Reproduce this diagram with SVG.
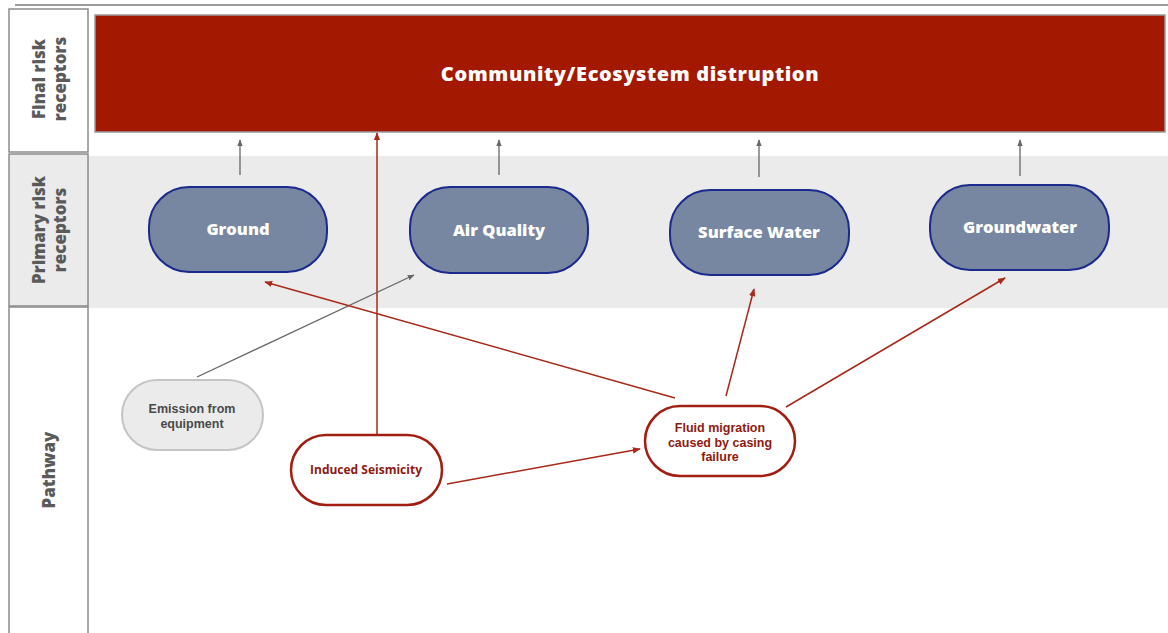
<svg xmlns="http://www.w3.org/2000/svg" width="1168" height="633" viewBox="0 0 1168 633">
<style>
.lane{fill:#ffffff;stroke:#8c8c8c;stroke-width:1.5}
.lane.g{fill:#ebebeb}
.lanet{font-family:"Open Sans","Liberation Sans",sans-serif;font-weight:800;font-size:17px;fill:#5a5a5a;text-anchor:middle}
.prim{fill:#7786a1;stroke:#1b2a8c;stroke-width:2}
.primt{font-family:"Open Sans","Liberation Sans",sans-serif;font-weight:800;font-size:16.5px;fill:#ffffff;text-anchor:middle}
.path{fill:#ffffff;stroke:#a01f12;stroke-width:2.5}
.patht{font-family:"Open Sans","Liberation Sans",sans-serif;font-weight:bold;font-size:12px;fill:#8e1a10;text-anchor:middle}
.mt{font-family:"Liberation Sans",Arial,sans-serif;font-weight:bold;font-size:12.5px;text-anchor:middle}
.gl{stroke:#666666;stroke-width:1.3;fill:none}
.rl{stroke:#a8281a;stroke-width:1.5;fill:none}
</style>
<defs>
<marker id="ag" viewBox="0 0 10 10" refX="9" refY="5" markerWidth="7" markerHeight="7" markerUnits="userSpaceOnUse" orient="auto"><path d="M0,1 L10,5 L0,9 z" fill="#666666"/></marker>
<marker id="ar" viewBox="0 0 10 10" refX="9" refY="5" markerWidth="8" markerHeight="8" markerUnits="userSpaceOnUse" orient="auto"><path d="M0,1 L10,5 L0,9 z" fill="#a8281a"/></marker>
</defs>
<rect x="0" y="0" width="1168" height="633" fill="#ffffff"/>
<line x1="15" y1="5" x2="1168" y2="5" stroke="#9a9a9a" stroke-width="2"/>
<rect x="88" y="156" width="1080" height="152" fill="#ebebeb"/>
<g id="lanes">
<rect class="lane" x="9" y="9" width="79" height="143"/>
<text class="lanet" transform="translate(48,79) rotate(-90)"><tspan x="0" y="-3">Final risk</tspan><tspan x="0" y="18">receptors</tspan></text>
<rect class="lane g" x="9" y="154" width="79" height="152"/>
<text class="lanet" transform="translate(48,230) rotate(-90)"><tspan x="0" y="-3">Primary risk</tspan><tspan x="0" y="18">receptors</tspan></text>
<rect class="lane" x="9" y="307" width="79" height="330"/>
<text class="lanet" transform="translate(55,470) rotate(-90)"><tspan x="0" y="0">Pathway</tspan></text>
</g>
<g id="final">
<rect x="95" y="15" width="1070" height="117" fill="#a21800" stroke="#9a9a9a" stroke-width="1.5"/>
<text x="630" y="81" font-family="'Open Sans','Liberation Sans',sans-serif" font-weight="800" font-size="20px" letter-spacing="0.6" fill="#ffffff" text-anchor="middle">Community/Ecosystem distruption</text>
</g>
<g id="ground"><rect class="prim" x="149" y="187" width="178" height="85" rx="40"/><text class="primt" x="238" y="235">Ground</text></g>
<g id="air"><rect class="prim" x="410" y="187" width="178" height="86" rx="40"/><text class="primt" x="499" y="236">Air Quality</text></g>
<g id="surface"><rect class="prim" x="670" y="190" width="179" height="85" rx="40"/><text class="primt" x="759" y="238">Surface Water</text></g>
<g id="groundwater"><rect class="prim" x="930" y="185" width="179" height="85" rx="40"/><text class="primt" x="1020" y="233">Groundwater</text></g>
<g id="emission"><rect x="122" y="380" width="141" height="70" rx="35" fill="#ebebeb" stroke="#c4c4c4" stroke-width="2"/>
<text class="mt" x="192" y="413" fill="#4a4a4a">Emission from</text>
<text class="mt" x="192" y="427.5" fill="#4a4a4a">equipment</text></g>
<g id="seismicity"><rect class="path" x="291" y="435" width="151" height="70" rx="35"/><text class="patht" x="366" y="474">Induced Seismicity</text></g>
<g id="fluid"><rect class="path" x="645" y="406" width="150" height="70" rx="35"/>
<text class="mt" x="720" y="432" fill="#8e1a10">Fluid migration</text>
<text class="mt" x="720" y="446.5" fill="#8e1a10">caused by casing</text>
<text class="mt" x="720" y="461" fill="#8e1a10">failure</text></g>
<g id="connectors">
<line class="gl" x1="240" y1="175" x2="240" y2="140" marker-end="url(#ag)"/>
<line class="gl" x1="499" y1="175" x2="499" y2="140" marker-end="url(#ag)"/>
<line class="gl" x1="759" y1="177" x2="759" y2="140" marker-end="url(#ag)"/>
<line class="gl" x1="1020" y1="176" x2="1020" y2="140" marker-end="url(#ag)"/>
<line class="rl" x1="377" y1="434" x2="377" y2="133" marker-end="url(#ar)"/>
<line class="gl" x1="197" y1="377" x2="414" y2="275" marker-end="url(#ag)"/>
<line class="rl" x1="675" y1="398" x2="265" y2="282" marker-end="url(#ar)"/>
<line class="rl" x1="726" y1="396" x2="754" y2="289" marker-end="url(#ar)"/>
<line class="rl" x1="786" y1="407" x2="1005" y2="278" marker-end="url(#ar)"/>
<line class="rl" x1="447" y1="484" x2="640" y2="449" marker-end="url(#ar)"/>
</g>
</svg>
